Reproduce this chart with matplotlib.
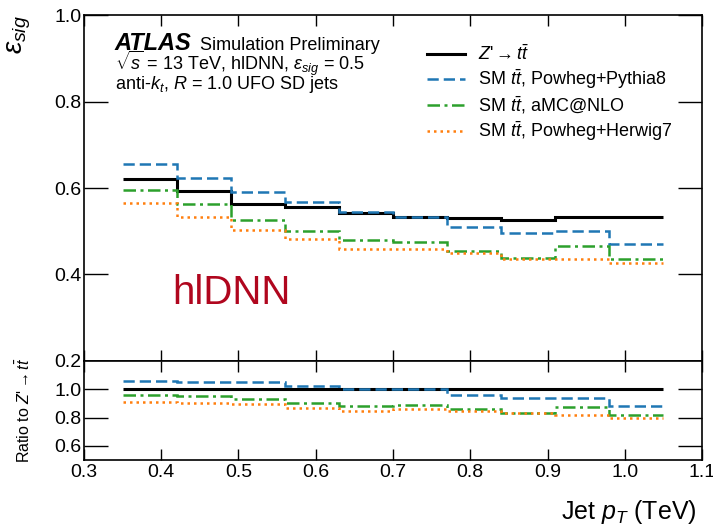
import matplotlib
matplotlib.use("Agg")
import matplotlib.pyplot as plt
import numpy as np

plt.rcParams["font.family"] = ["Liberation Sans", "DejaVu Sans"]
plt.rcParams["mathtext.fontset"] = "custom"
plt.rcParams["mathtext.rm"] = "Liberation Sans"
plt.rcParams["mathtext.it"] = "Liberation Sans:italic"
plt.rcParams["mathtext.bf"] = "Liberation Sans:bold"

# jet pT bin edges (TeV)
pt_edges = [0.35, 0.42, 0.49, 0.56, 0.63, 0.70, 0.77, 0.84, 0.91, 0.98, 1.05]

# signal efficiency per pT bin
eff_zprime = [0.620, 0.592, 0.563, 0.555, 0.543, 0.534, 0.530, 0.526, 0.534, 0.534]
eff_pythia8 = [0.656, 0.623, 0.590, 0.568, 0.545, 0.534, 0.509, 0.495, 0.500, 0.471]
eff_amcnlo = [0.596, 0.563, 0.525, 0.501, 0.480, 0.475, 0.455, 0.437, 0.466, 0.436]
eff_herwig7 = [0.566, 0.534, 0.503, 0.482, 0.459, 0.459, 0.450, 0.436, 0.436, 0.427]

zprime_tex = r"$Z$'$\rightarrow t\bar{t}$"
labels = [zprime_tex,
          r"SM $t\bar{t}$, Powheg+Pythia8",
          r"SM $t\bar{t}$, aMC@NLO",
          r"SM $t\bar{t}$, Powheg+Herwig7"]

series = [
    (eff_zprime, "black", "-", 2.2),
    (eff_pythia8, "#1f77b4", (0, (4.5, 2)), 1.8),
    (eff_amcnlo, "#2ca02c", (0, (5, 1.8, 1.2, 1.8)), 1.8),
    (eff_herwig7, "#ff7f0e", (0, (1, 1.6)), 1.8),
]

fig = plt.figure(figsize=(7.13, 5.25), dpi=100)
ax = fig.add_axes([0.1178, 0.3124, 0.8668, 0.659])
rax = fig.add_axes([0.1178, 0.1238, 0.8668, 0.1886])

ref = np.array(eff_zprime)
for (vals, color, ls, lw), label in zip(series, labels):
    ax.stairs(vals, pt_edges, baseline=None, color=color, linestyle=ls, linewidth=lw, label=label)
    rax.stairs(np.array(vals) / ref, pt_edges, baseline=None, color=color, linestyle=ls, linewidth=lw)

xticks = np.arange(0.3, 1.11, 0.1)
for a in (ax, rax):
    a.set_xlim(0.3, 1.1)
    a.set_xticks(xticks)
    a.tick_params(direction="in", top=True, right=True, labelsize=14, width=1, pad=3)
    a.tick_params(axis="y", length=17, pad=2)
    a.tick_params(axis="x", length=8)
    for s in a.spines.values():
        s.set_linewidth(1.2)

ax.set_ylim(0.2, 1.0)
ax.set_yticks([0.2, 0.4, 0.6, 0.8, 1.0])
ax.tick_params(labelbottom=False)

rax.set_ylim(0.5, 1.2)
rax.set_yticks([0.6, 0.8, 1.0])
rax.set_xticklabels([f"{v:.1f}" for v in xticks])

ax.set_ylabel(r"$\epsilon_{sig}$", fontsize=20, ha="right")
ax.yaxis.set_label_coords(-0.083, 1.0)
rax.set_ylabel("Ratio to " + zprime_tex, fontsize=11.5)
rax.yaxis.set_label_coords(-0.082, 0.5)
rax.set_xlabel(r"Jet $p_T$ (TeV)", fontsize=18, ha="right")
rax.xaxis.set_label_coords(0.992, -0.38)

fig.text(0.161, 0.905, "ATLAS", fontsize=17, fontweight="bold", style="italic", va="baseline")
fig.text(0.2805, 0.905, "Simulation Preliminary", fontsize=13, va="baseline")
fig.text(0.161, 0.867, r"$\sqrt{s}$ = 13 TeV, hlDNN, $\epsilon_{sig}$ = 0.5", fontsize=13, va="baseline")
fig.text(0.161, 0.830, r"anti-$k_t$, $R$ = 1.0 UFO SD jets", fontsize=13, va="baseline")

ax.text(0.142, 0.165, "hlDNN", transform=ax.transAxes, fontsize=29, color="#b0061e", va="baseline")

ax.legend(loc="upper left", bbox_to_anchor=(0.555, 0.915), frameon=False, fontsize=13,
          handlelength=2.1, handletextpad=0.7, labelspacing=0.2, borderpad=0, borderaxespad=0)

fig.savefig("out.png", dpi=100)
